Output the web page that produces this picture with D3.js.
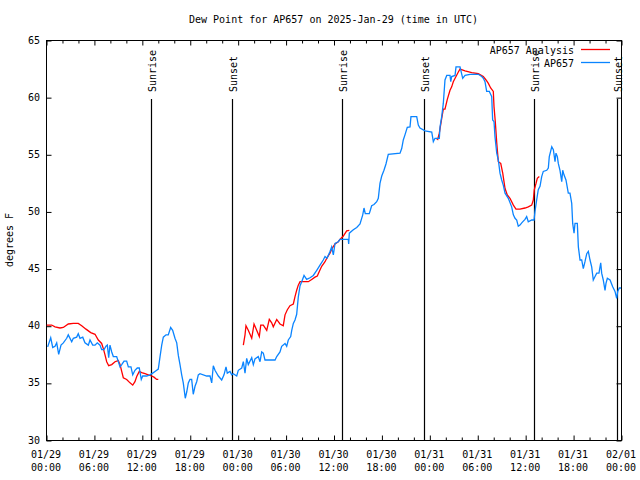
<!DOCTYPE html>
<html>
<head>
<meta charset="utf-8">
<script src="https://cdn.jsdelivr.net/npm/d3@7/dist/d3.min.js"></script>
<style>
  html, body { margin: 0; padding: 0; background: #fff; }
  svg { display: block; }
  text { font-family: "DejaVu Sans Mono", "Liberation Mono", monospace; font-size: 10px; fill: #000; }
</style>
</head>
<body>
<svg id="chart" width="640" height="480"></svg>
<script>
// ---------- DATA (hours since 2025-01-29 00:00 UTC, dew point in F) ----------
const obsHours = [0.21,0.59,0.84,1.13,1.34,1.59,1.88,2.17,2.59,2.79,3.22,3.42,3.84,4.04,4.26,4.60,4.88,5.30,5.51,5.85,
  6.14,6.42,6.76,6.97,7.26,7.51,7.68,7.85,8.01,8.23,8.43,8.85,9.27,9.48,9.77,10.10,10.31,10.64,10.86,11.14,
  11.43,11.68,11.93,12.11,12.61,13.02,13.36,13.65,14.06,14.28,14.49,14.69,15.03,15.31,15.61,15.86,16.15,16.37,16.57,16.78,
  16.99,17.19,17.44,17.62,17.82,18.03,18.24,18.44,18.66,18.87,19.07,19.28,20.12,20.54,20.75,20.95,21.16,21.58,22.00,22.29,
  22.54,22.70,23.04,23.25,23.45,23.88,24.08,24.51,24.71,24.92,25.13,25.33,25.76,25.96,26.17,26.58,26.80,27.01,27.21,27.42,
  28.68,28.89,29.30,29.51,29.93,30.14,30.34,30.64,30.77,30.97,31.18,31.39,31.59,31.81,32.02,32.31,32.64,33.06,33.47,33.90,
  34.31,34.72,34.94,35.19,35.56,35.77,35.98,36.19,36.60,36.81,37.85,37.90,37.98,38.48,38.91,39.32,39.66,39.82,39.98,40.48,
  40.78,41.07,41.41,41.61,41.82,42.04,42.32,42.57,42.86,44.33,44.54,44.74,44.95,45.24,45.58,45.70,46.42,46.62,46.83,47.46,
  48.30,48.50,48.71,49.25,49.34,49.55,49.75,49.96,50.18,50.59,50.68,50.80,51.22,51.34,51.84,52.18,52.47,53.09,54.13,54.56,
  54.76,54.97,55.18,55.51,55.81,55.93,56.10,56.22,56.44,56.64,56.85,57.06,57.26,57.48,57.89,58.31,58.52,58.73,58.94,59.14,
  59.35,59.57,59.77,59.98,60.19,60.39,60.82,61.11,61.23,61.44,61.64,61.86,62.07,62.27,62.70,62.90,63.02,63.33,63.53,63.74,
  63.86,64.03,64.15,64.36,64.58,64.70,64.86,65.11,65.40,65.61,65.83,65.95,66.12,66.24,66.53,66.66,66.87,67.08,67.28,67.49,
  67.71,67.91,68.12,68.33,68.53,68.75,68.96,69.24,69.46,69.58,69.78,70.00,70.12,70.29,70.63,70.96,71.25,71.46,71.59,71.79,72.0];
const obsDew = [38.15,38.95,38.1,38.2,38.5,37.5,38.3,38.5,38.9,39.2,38.6,38.9,39.0,39.3,38.9,39.0,38.5,38.3,38.75,38.3,
  38.3,38.5,38.3,37.9,37.9,38.2,38.3,37.2,38.3,37.7,37.3,37.3,36.4,36.6,36.9,36.9,36.4,36.4,35.7,36.1,
  36.3,36.3,35.3,35.6,35.6,35.7,35.85,36.0,36.2,37.3,38.3,39.0,39.2,39.2,39.85,39.6,38.9,38.5,37.4,36.6,
  35.7,35.0,33.65,34.2,35.0,35.3,35.3,34.0,34.7,35.1,35.7,35.8,35.6,35.6,35.0,36.5,36.1,35.6,35.25,35.7,
  36.4,35.85,36.0,35.7,35.8,35.6,36.1,36.3,36.85,35.85,37.15,36.6,37.2,36.6,37.1,37.3,36.85,37.7,37.6,37.0,
  37.0,37.3,37.7,38.2,38.45,38.2,38.75,39.05,39.6,40.2,40.5,41.0,42.5,43.5,43.85,44.4,44.05,44.2,44.4,44.85,
  45.3,45.75,46.05,45.9,46.5,46.9,46.2,47.2,47.35,47.55,47.55,47.15,48.1,48.4,48.6,48.9,49.7,50.3,49.8,49.8,
  50.5,50.6,50.85,51.15,52.45,53.1,53.6,54.15,55.0,55.1,55.5,56.25,56.7,57.35,57.4,58.3,58.3,57.55,57.3,57.05,
  56.95,56.1,56.4,56.4,57.4,58.3,59.45,61.5,61.9,61.9,61.35,61.8,61.9,62.65,62.65,61.65,61.9,62.0,62.0,61.8,
  61.65,61.35,60.5,60.5,60.05,58.0,57.85,56.55,55.1,54.5,53.35,52.75,52.3,51.6,51.15,50.4,49.7,49.4,49.25,48.7,
  48.8,49.0,49.15,49.3,49.55,49.1,49.25,49.25,50.0,51.0,51.9,52.2,53.05,53.5,53.6,53.8,54.8,55.65,55.4,54.35,
  55.1,54.8,54.2,53.6,52.6,53.6,53.2,52.75,51.6,51.6,50.7,48.95,48.1,48.95,48.95,46.9,45.75,45.75,45.0,45.6,
  46.3,46.5,45.75,45.15,44.0,44.3,44.6,44.6,45.5,44.6,44.0,43.1,43.7,44.15,44.0,43.4,43.0,42.4,43.0,43.3,43.3];

// Analysis series: null entries mark gaps
const anaHours = [0.09,0.71,1.13,1.75,2.17,2.79,3.42,4.04,4.47,5.01,5.60,6.14,6.55,6.97,7.18,7.39,7.60,7.85,8.23,8.64,
  9.05,9.27,9.48,9.68,10.10,10.52,10.86,11.14,11.36,11.68,11.98,12.40,12.81,13.24,13.52,13.86,14.06, 14.1,
  24.71,24.92,25.04,25.33,25.76,26.05,26.38,26.71,26.89,27.21,27.64,27.96,28.26,28.46,28.89,29.30,29.71,29.93,30.22,30.55,
  30.97,31.18,31.39,31.59,31.81,32.85,33.27,33.68,33.97,34.22,34.52,34.94,35.15,35.56,35.77,36.19,36.60,36.81,37.23,37.65,37.98, 38.0,
  48.84,49.05,49.25,49.55,49.75,49.96,50.25,50.59,50.80,51.00,51.34,51.63,51.84,52.47,53.31,54.13,54.76,55.10,55.39,55.68,
  56.01,56.10,56.26,56.44,56.64,56.94,57.19,57.48,57.76,58.10,58.52,58.85,59.35,59.98,60.39,60.82,61.02,61.14,61.36,61.52,61.77];
const anaDew = [40.06,40.06,39.9,39.8,39.85,40.15,40.2,40.2,40.0,39.7,39.4,39.25,38.75,38.45,38.0,37.45,36.85,36.5,36.6,36.85,
  36.95,36.6,36.0,35.45,35.3,35.0,34.8,35.1,35.55,36.0,35.9,35.8,35.7,35.6,35.5,35.3,35.3, null,
  38.3,39.2,40.0,39.6,38.9,40.15,39.6,39.05,40.05,40.05,39.6,40.55,40.25,39.9,40.55,40.15,40.0,40.95,41.4,41.75,
  41.9,42.55,43.1,43.55,43.85,43.85,44.05,44.25,44.35,44.75,45.2,45.6,45.9,46.35,46.7,47.15,47.35,47.55,47.85,48.3,48.35, null,
  56.4,56.3,56.85,58.15,58.95,58.95,59.8,60.6,60.9,61.35,61.8,62.2,62.45,62.3,62.15,62.05,61.8,61.5,61.2,60.8,
  60.5,59.15,57.85,56.0,54.35,54.2,53.35,52.0,51.45,51.15,50.55,50.2,50.2,50.3,50.4,50.55,51.0,51.9,52.45,52.9,53.05];

const sunHours = [13.11, 23.33, 37.10, 47.37, 61.14, 71.46];
const sunLabels = ["Sunrise", "Sunset", "Sunrise", "Sunset", "Sunrise", "Sunset"];
const yTicks = [30, 35, 40, 45, 50, 55, 60, 65];
const seriesNames = ["AP657 Analysis", "AP657"];
const seriesColors = ["#ff0000", "#0a84ff"];
const titleText = "Dew Point for AP657 on 2025-Jan-29 (time in UTC)";
const yLabel = "degrees F";

// ---------- CHART ----------
const t0 = Date.UTC(2025, 0, 29);
const toDate = h => new Date(t0 + h * 3600e3);
const L = 46, R = 621, T = 40, B = 440;
const svg = d3.select("#chart");

const x = d3.scaleUtc().domain([toDate(0), toDate(72)]).range([L, R]);
const y = d3.scaleLinear().domain([30, 65]).range([B, T]);

const majorTicks = d3.utcHour.every(6).range(toDate(0), toDate(72.01));
const minorTicks = d3.utcHour.every(2).range(toDate(0), toDate(72.01)).filter(d => d.getUTCHours() % 6 !== 0);

// frame
svg.append("rect").attr("x", L + 0.5).attr("y", T + 0.5).attr("width", R - L).attr("height", B - T)
  .attr("fill", "none").attr("stroke", "#000").attr("stroke-width", 1);

// x ticks (bottom and top, inward)
const fmtD = d3.utcFormat("%m/%d"), fmtH = d3.utcFormat("%H:%M");
const axB = svg.append("g").attr("transform", `translate(0.5,${B + 0.5})`)
  .call(d3.axisTop(x).tickValues(majorTicks).tickSize(5).tickFormat(""));
const axBm = svg.append("g").attr("transform", `translate(0.5,${B + 0.5})`)
  .call(d3.axisTop(x).tickValues(minorTicks).tickSize(3).tickFormat(""));
const axT = svg.append("g").attr("transform", `translate(0.5,${T + 0.5})`)
  .call(d3.axisBottom(x).tickValues(majorTicks).tickSize(5).tickFormat(""));
const axTm = svg.append("g").attr("transform", `translate(0.5,${T + 0.5})`)
  .call(d3.axisBottom(x).tickValues(minorTicks).tickSize(3).tickFormat(""));
[axB, axBm, axT, axTm].forEach(g => { g.select(".domain").remove(); g.selectAll("line").attr("stroke", "#000"); });

const xl = svg.append("g");
majorTicks.forEach(d => {
  const t = xl.append("text").attr("x", x(d)).attr("y", 458).attr("text-anchor", "middle");
  t.append("tspan").attr("x", x(d)).attr("y", 458).text(fmtD(d));
  t.append("tspan").attr("x", x(d)).attr("y", 471).text(fmtH(d));
});

// y ticks (left and right, inward)
const ayL = svg.append("g").attr("transform", `translate(${L + 0.5},0.5)`)
  .call(d3.axisRight(y).tickValues(yTicks).tickSize(5).tickFormat(""));
const ayR = svg.append("g").attr("transform", `translate(${R + 0.5},0.5)`)
  .call(d3.axisLeft(y).tickValues(yTicks).tickSize(5).tickFormat(""));
[ayL, ayR].forEach(g => { g.select(".domain").remove(); g.selectAll("line").attr("stroke", "#000"); });
yTicks.forEach(v => {
  svg.append("text").attr("x", 40).attr("y", y(v)).attr("dy", "0.35em").attr("text-anchor", "end").text(v);
});

// title and y label
svg.append("text").attr("x", (L + R) / 2).attr("y", 23).attr("text-anchor", "middle").text(titleText);
svg.append("text").attr("transform", `translate(13,240) rotate(-90)`).attr("text-anchor", "middle").text(yLabel);

// sunrise / sunset
sunHours.forEach((h, i) => {
  const sx = Math.round(x(toDate(h))) + 0.5;
  svg.append("line").attr("x1", sx).attr("x2", sx).attr("y1", 99).attr("y2", B)
    .attr("stroke", "#000").attr("stroke-width", 1.2);
  svg.append("text").attr("transform", `translate(${sx + 4},92) rotate(-90)`)
    .attr("text-anchor", "start").text(sunLabels[i]);
});

// series
const line = d3.line().defined(d => d.v != null).x(d => x(d.t)).y(d => y(d.v));
const obs = obsHours.map((h, i) => ({ t: toDate(h), v: obsDew[i] }));
const ana = anaHours.map((h, i) => ({ t: toDate(h), v: anaDew[i] }));
svg.append("path").datum(ana).attr("d", line).attr("fill", "none")
  .attr("stroke", seriesColors[0]).attr("stroke-width", 1.3);
svg.append("path").datum(obs).attr("d", line).attr("fill", "none")
  .attr("stroke", seriesColors[1]).attr("stroke-width", 1.3);

// legend
seriesNames.forEach((n, i) => {
  const ly = 50 + i * 13;
  svg.append("text").attr("x", 574).attr("y", ly).attr("dy", "0.35em").attr("text-anchor", "end").text(n);
  svg.append("line").attr("x1", 581).attr("x2", 610).attr("y1", ly - 0.5).attr("y2", ly - 0.5)
    .attr("stroke", seriesColors[i]).attr("stroke-width", 1.3);
});
</script>
</body>
</html>
